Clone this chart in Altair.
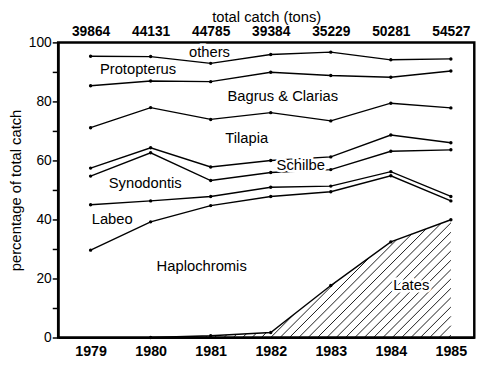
import altair as alt
import pandas as pd

years = [1979, 1980, 1981, 1982, 1983, 1984, 1985]
total_catch = [39864, 44131, 44785, 39384, 35229, 50281, 54527]

# cumulative upper boundaries of each group (percentage of total catch)
lates_top        = [None, 0.0, 0.6, 1.7, 17.6, 32.4, 39.9]
haplochromis_top = [29.6, 39.2, 44.7, 47.8, 49.4, 54.8, 46.3]
labeo_top        = [45.0, 46.3, 47.8, 50.9, 51.3, 56.2, 47.8]
synodontis_top   = [54.7, 62.6, 53.2, 55.9, 56.9, 63.1, 63.6]
schilbe_top      = [57.4, 64.3, 57.8, 60.0, 61.2, 68.6, 66.0]
tilapia_top      = [71.1, 77.9, 73.9, 76.2, 73.4, 79.4, 77.8]
bagrus_top       = [85.3, 86.9, 86.7, 89.9, 88.8, 88.2, 90.3]
protopterus_top  = [95.3, 95.2, 92.9, 95.9, 96.7, 94.1, 94.4]

label_names = ["others", "Protopterus", "Bagrus & Clarias", "Tilapia", "Schilbe",
               "Synodontis", "Labeo", "Haplochromis", "Lates"]
label_x = [1980.98, 1979.79, 1982.2, 1981.6, 1982.5, 1979.91, 1979.36, 1980.85, 1984.34]
label_y = [96.7, 90.8, 81.9, 67.7, 58.3, 52.2, 40.3, 24.1, 17.8]

series = {
    "Lates": lates_top, "Haplochromis": haplochromis_top, "Labeo": labeo_top,
    "Synodontis": synodontis_top, "Schilbe": schilbe_top, "Tilapia": tilapia_top,
    "Bagrus": bagrus_top, "Protopterus": protopterus_top,
}
rows = []
for name, vals in series.items():
    for yr, v in zip(years, vals):
        if v is not None:
            rows.append({"year": yr, "pct": v, "series": name})
df = pd.DataFrame(rows)

labels_df = pd.DataFrame({"name": label_names, "x": label_x, "y": label_y})

# hatching (45 degree lines in screen space) under the Lates boundary
PX_YEAR, PX_PCT = 61.0, 3.0
slope = PX_YEAR / PX_PCT
spacing = 9.5 / PX_YEAR
pts = [(yr, v) for yr, v in zip(years, lates_top) if v is not None]
x_start, x_end = pts[0][0], pts[-1][0]

def top_at(x):
    for (xa, ya), (xb, yb) in zip(pts[:-1], pts[1:]):
        if xa <= x <= xb:
            return ya + (yb - ya) * (x - xa) / (xb - xa)
    return pts[-1][1]

hatch = []
k = -int((1982 - x_start) / spacing) - 1
while True:
    x0 = 1982 + k * spacing
    k += 1
    if x0 >= x_end:
        break
    if x0 < x_start:
        continue
    end = None
    for (xa, ya), (xb, yb) in zip(pts[:-1], pts[1:]):
        if xb <= x0:
            continue
        a = max(xa, x0)
        fa = top_at(a) - (a - x0) * slope
        fb = yb - (xb - x0) * slope
        if fb < 0:
            xr = a + fa / (fa - fb) * (xb - a) if fa > 0 else a
            end = (xr, (xr - x0) * slope)
            break
    if end is None:
        end = (x_end, (x_end - x0) * slope)
    if end[0] - x0 > 1e-4:
        hatch.append({"x0": x0, "y0": 0.0, "x1": end[0], "y1": end[1]})
hatch_df = pd.DataFrame(hatch)

FONT = "Liberation Sans"
xscale = alt.Scale(domain=[1978.46, 1985.39], nice=False, zero=False)
yscale = alt.Scale(domain=[0, 100], nice=False)

lookup = "{" + ",".join(f"'{y}':'{t}'" for y, t in zip(years, total_catch)) + "}"

top_axis = alt.Axis(orient="top", values=years, labelExpr=lookup + "[datum.value]",
                    ticks=False, tickSize=0, domain=False, grid=False,
                    labelFont=FONT, labelFontSize=14, labelFontWeight="bold",
                    labelPadding=4, title="total catch (tons)", titleFont=FONT,
                    titleFontSize=15, titleFontWeight="normal", titlePadding=0,
                    labelColor="black", titleColor="black")
bottom_axis = alt.Axis(orient="bottom", values=years, format="d", ticks=False,
                       tickSize=0, grid=False, domainColor="black", domainWidth=2,
                       labelFont=FONT, labelFontSize=14.5, labelFontWeight="bold",
                       labelPadding=7, title=None, labelColor="black")
y_axis = alt.Axis(orient="left", values=list(range(0, 101, 10)),
                  labelExpr="datum.value % 20 == 0 ? datum.label : ''",
                  tickSize=6, tickWidth=1.5, tickColor="black", grid=False,
                  domainColor="black", domainWidth=2, labelFont=FONT,
                  labelFontSize=14, labelPadding=1, labelColor="black",
                  title="percentage of total catch", titleFont=FONT,
                  titleFontSize=15, titleFontWeight="normal", titlePadding=5,
                  titleColor="black")

hatch_layer = alt.Chart(hatch_df).mark_rule(color="black", strokeWidth=0.9).encode(
    x=alt.X("x0:Q", scale=xscale, axis=None),
    y=alt.Y("y0:Q", scale=yscale, axis=y_axis),
    x2="x1:Q", y2="y1:Q",
)
lines = alt.Chart(df).mark_line(color="black", strokeWidth=1.4).encode(
    x=alt.X("year:Q", scale=xscale, axis=top_axis),
    y=alt.Y("pct:Q", scale=yscale, axis=None),
    detail="series:N",
)
points = alt.Chart(df).mark_circle(color="black", size=12, opacity=1).encode(
    x=alt.X("year:Q", scale=xscale, axis=bottom_axis),
    y=alt.Y("pct:Q", scale=yscale, axis=None),
)
halo = alt.Chart(labels_df).mark_text(font=FONT, fontSize=15, color="white",
                                      stroke="white", strokeWidth=5).encode(
    x=alt.X("x:Q", scale=xscale, axis=None),
    y=alt.Y("y:Q", scale=yscale, axis=None),
    text="name:N",
)
text = alt.Chart(labels_df).mark_text(font=FONT, fontSize=15, color="black").encode(
    x=alt.X("x:Q", scale=xscale, axis=None),
    y=alt.Y("y:Q", scale=yscale, axis=None),
    text="name:N",
)

chart = alt.layer(hatch_layer, lines, points, halo, text).resolve_axis(
    x="independent", y="independent"
).properties(
    width=423, height=300, autosize="none",
    padding={"left": 51, "top": 32, "right": 18, "bottom": 27},
    background="white",
).configure_view(stroke="black", strokeWidth=2.5)

chart.save("out.html", embed_options={"renderer": "svg", "actions": False})
